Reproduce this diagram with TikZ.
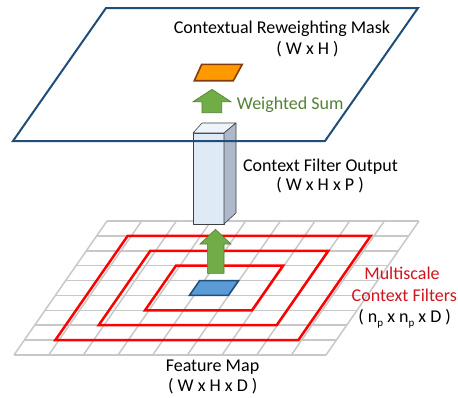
\documentclass[tikz,border=0pt]{standalone}
\usepackage{fontspec}
\setmainfont{Carlito}
\definecolor{planeblue}{RGB}{31,78,121}
\definecolor{gridgray}{RGB}{200,200,200}
\definecolor{filtred}{RGB}{255,0,0}
\definecolor{cellfill}{RGB}{91,155,213}
\definecolor{celledge}{RGB}{31,78,121}
\definecolor{arrowfill}{RGB}{112,173,71}
\definecolor{arrowedge}{RGB}{80,126,50}
\definecolor{sumgreen}{RGB}{84,130,53}
\definecolor{labelred}{RGB}{210,20,30}
\definecolor{orangefill}{RGB}{255,153,0}
\definecolor{orangeedge}{RGB}{132,60,12}
\definecolor{boxfront}{RGB}{222,235,247}
\definecolor{boxtop}{RGB}{238,244,251}
\definecolor{boxside}{RGB}{173,185,202}
\definecolor{boxedge}{RGB}{64,64,64}
\begin{document}
\begin{tikzpicture}[x=1pt,y=-1pt,
  gridline/.style={draw=gridgray,line width=1.5pt},
  filterbox/.style={draw=filtred,line width=2.5pt,line join=miter},
  blockarrow/.style={fill=arrowfill,draw=arrowedge,line width=0.6pt},
  boxface/.style={draw=boxedge,line width=0.6pt,line join=round},
  lbl/.style={font=\fontsize{18}{21}\selectfont,inner sep=0pt,anchor=base}]
\useasboundingbox[fill=white] (0,0) rectangle (458,397);
% feature map grid
\begin{scope}[shift={(107,221)},x={(1pt,0pt)},y={(-10.333pt,-14.889pt)}]
  \foreach \k in {0,...,9} \draw[gridline] ({34.667*\k},0) -- ({34.667*\k},9);
  \foreach \v in {0,...,9} \draw[gridline] (0,\v) -- (312,\v);
  \draw[filterbox] (31,1) -- (274,1) -- (274,8) -- (31,8) -- cycle;
  \draw[filterbox] (64,2) -- (242,2) -- (242,7) -- (64,7) -- cycle;
  \draw[filterbox] (100,3) -- (207,3) -- (207,6) -- (100,6) -- cycle;
  \draw[fill=cellfill,draw=celledge,line width=1.5pt] (134,4) -- (173,4) -- (173,5) -- (134,5) -- cycle;
\end{scope}
% lower arrow
\draw[blockarrow] (207.3,273.3) -- (207.3,244) -- (200,244) -- (215.5,229.3) -- (231,244) -- (224,244) -- (224,273.3) -- cycle;
% context filter output box
\draw[boxface,fill=boxfront] (193,133) -- (224,133) -- (224,224) -- (193,224) -- cycle;
\draw[boxface,fill=boxtop] (193,133) -- (202,123) -- (236,123) -- (224,133) -- cycle;
\draw[boxface,fill=boxside] (224,133) -- (236,123) -- (236,213) -- (224,224) -- cycle;
% top plane
\draw[draw=planeblue,line width=2pt,line join=miter] (106,8) -- (418,8) -- (325,141) -- (13,141) -- cycle;
% upper arrow
\draw[blockarrow] (202,112.7) -- (202,101.7) -- (193,101.7) -- (212,89.3) -- (231,101.7) -- (221.7,101.7) -- (221.7,112.7) -- cycle;
% orange cell
\draw[fill=orangefill,draw=orangeedge,line width=1.6pt] (201.7,64.3) -- (242.3,64.3) -- (233.3,80.7) -- (194.3,80.7) -- cycle;
% labels
\node[lbl] (mask) at (282,33.3) {Contextual Reweighting Mask};
\node[lbl] (maskdim) at (307.5,54.3) {( W x H )};
\node[lbl,anchor=base west,text=sumgreen] (wsum) at (236.7,109.3) {Weighted Sum};
\node[lbl] (cfo) at (320.5,171.7) {Context Filter Output};
\node[lbl] (cfodim) at (320,190.7) {( W x H x P )};
\node[lbl,text=labelred] (ms1) at (402,279) {Multiscale};
\node[lbl,text=labelred] (ms2) at (404.3,301) {Context Filters};
\node[lbl] (msdim) at (404.7,322.3) {( n\raisebox{-0.22em}{\fontsize{11}{11}\selectfont p} x n\raisebox{-0.22em}{\fontsize{11}{11}\selectfont p} x D )};
\node[lbl] (fm) at (212.5,371.7) {Feature Map};
\node[lbl] (fmdim) at (212.8,391.7) {( W x H x D )};
\end{tikzpicture}
\end{document}
